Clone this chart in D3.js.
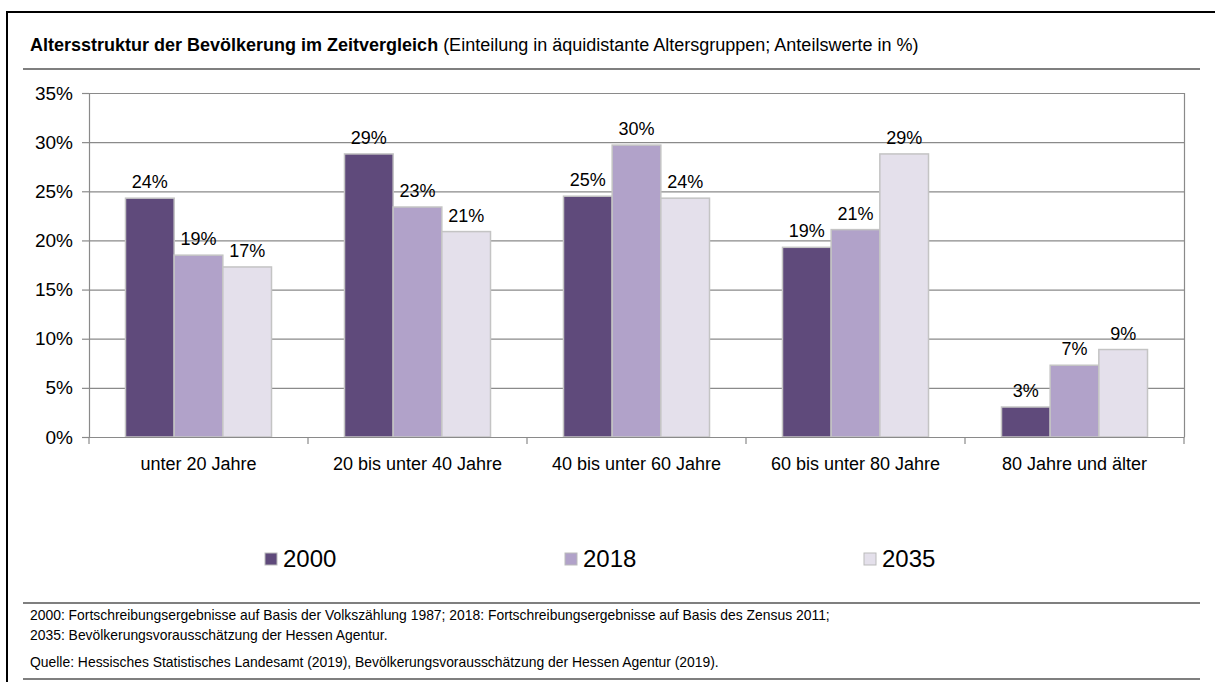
<!DOCTYPE html>
<html>
<head>
<meta charset="utf-8">
<script src="https://cdn.jsdelivr.net/npm/d3@7"></script>
<style>
  body { margin: 0; background: #fff; }
  text { font-family: "Liberation Sans Narrow", "Arial Narrow", "Liberation Sans", Arial, sans-serif; fill: #000; }
</style>
</head>
<body>
<script>
const categories = ["unter 20 Jahre", "20 bis unter 40 Jahre", "40 bis unter 60 Jahre", "60 bis unter 80 Jahre", "80 Jahre und älter"];
const years      = ["2000", "2018", "2035"];
const values2000 = [24.3, 28.8, 24.5, 19.3, 3.05];
const values2018 = [18.5, 23.4, 29.7, 21.1, 7.3];
const values2035 = [17.3, 20.9, 24.3, 28.8, 8.9];
const yTicks     = [0, 5, 10, 15, 20, 25, 30, 35];
const footnotes  = [
  "2000: Fortschreibungsergebnisse auf Basis der Volkszählung 1987; 2018: Fortschreibungsergebnisse auf Basis des Zensus 2011;",
  "2035: Bevölkerungsvorausschätzung der Hessen Agentur.",
  "Quelle: Hessisches Statistisches Landesamt (2019), Bevölkerungsvorausschätzung der Hessen Agentur (2019)."
];

const colors = {"2000": "#5f4a7b", "2018": "#b1a2c9", "2035": "#e4e0eb"};
const series = {"2000": values2000, "2018": values2018, "2035": values2035};

const W = 1215, H = 682;
const plot = {left: 89, right: 1184, top: 93, bottom: 437};

const svg = d3.select("body").append("svg")
  .attr("width", W)
  .attr("height", H);

// outer frame (left + top) and separators
svg.append("line").attr("x1", 6).attr("x2", W).attr("y1", 12).attr("y2", 12)
  .attr("stroke", "#000").attr("stroke-width", 2);
svg.append("line").attr("x1", 7).attr("x2", 7).attr("y1", 12).attr("y2", H)
  .attr("stroke", "#000").attr("stroke-width", 2);
[69, 603, 679].forEach(y => {
  svg.append("line").attr("x1", 23).attr("x2", 1200).attr("y1", y).attr("y2", y)
    .attr("stroke", "#555").attr("stroke-width", 1.3);
});

// title
const title = svg.append("text").attr("x", 30).attr("y", 51).style("font-size", "18px");
title.append("tspan").style("font-weight", "bold").text("Altersstruktur der Bevölkerung im Zeitvergleich");
title.append("tspan").text(" (Einteilung in äquidistante Altersgruppen; Anteilswerte in %)");

// scales
const x0 = d3.scaleBand().domain(categories).range([plot.left, plot.right]).paddingInner(0).paddingOuter(0);
const x1 = d3.scaleBand().domain(years).range([0, x0.bandwidth() * 2 / 3]);
const y = d3.scaleLinear().domain([0, 35]).range([plot.bottom, plot.top]);

// gridlines
svg.append("g").selectAll("line").data(yTicks.filter(d => d > 0)).join("line")
  .attr("x1", plot.left).attr("x2", plot.right)
  .attr("y1", d => y(d) + 0.5).attr("y2", d => y(d) + 0.5)
  .attr("stroke", "#8a8a8a").attr("stroke-width", 1.2);

// right border
svg.append("line").attr("x1", plot.right + 0.5).attr("x2", plot.right + 0.5)
  .attr("y1", plot.top).attr("y2", plot.bottom)
  .attr("stroke", "#8a8a8a").attr("stroke-width", 1.2);

// bars
const groups = svg.append("g").selectAll("g").data(categories).join("g")
  .attr("transform", d => `translate(${x0(d) + x0.bandwidth() / 6},0)`);

groups.selectAll("rect")
  .data((c, i) => years.map(yr => ({year: yr, value: series[yr][i]})))
  .join("rect")
  .attr("x", d => x1(d.year))
  .attr("y", d => y(d.value))
  .attr("width", x1.bandwidth())
  .attr("height", d => plot.bottom - y(d.value))
  .attr("fill", d => colors[d.year])
  .attr("stroke", "#c4c4c4")
  .attr("stroke-width", 1.5);

groups.selectAll("text")
  .data((c, i) => years.map(yr => ({year: yr, value: series[yr][i]})))
  .join("text")
  .attr("x", d => x1(d.year) + x1.bandwidth() / 2)
  .attr("y", d => y(d.value) - 10)
  .attr("text-anchor", "middle")
  .style("font-size", "18px")
  .text(d => Math.round(d.value) + "%");

// y axis
const yAxis = d3.axisLeft(y).tickValues(yTicks).tickSize(7).tickPadding(9)
  .tickFormat(d => d + "%");
svg.append("g")
  .attr("transform", `translate(${plot.left},0)`)
  .call(yAxis)
  .call(g => g.selectAll("line, path").attr("stroke", "#8a8a8a").attr("stroke-width", 1.2))
  .call(g => g.selectAll("text").style("font-size", "19px").attr("font-family", null));

// x axis
const xAxis = d3.axisBottom(x0).tickSize(0).tickPadding(20);
const xg = svg.append("g")
  .attr("transform", `translate(0,${plot.bottom})`)
  .call(xAxis)
  .call(g => g.select("path").attr("stroke", "#8a8a8a").attr("stroke-width", 1.2))
  .call(g => g.selectAll("text").style("font-size", "18px").attr("font-family", null));
xg.append("g").selectAll("line").data(categories.slice(1).map(c => x0(c)).concat([plot.left, plot.right]))
  .join("line")
  .attr("x1", d => d).attr("x2", d => d).attr("y1", 0).attr("y2", 7)
  .attr("stroke", "#8a8a8a").attr("stroke-width", 1.2);

// legend
const legendX = [265, 565, 864];
const legend = svg.append("g").selectAll("g").data(years).join("g")
  .attr("transform", (d, i) => `translate(${legendX[i]},553)`);
legend.append("rect").attr("width", 12).attr("height", 12)
  .attr("fill", d => colors[d]).attr("stroke", "#bbb").attr("stroke-width", 1);
legend.append("text").attr("x", 18).attr("y", 14)
  .style("font-size", "24px").text(d => d);

// footnotes
svg.append("g").selectAll("text").data(footnotes).join("text")
  .attr("x", 30)
  .attr("y", (d, i) => [620, 640, 667][i])
  .style("font-size", "13.9px")
  .text(d => d);
</script>
</body>
</html>
